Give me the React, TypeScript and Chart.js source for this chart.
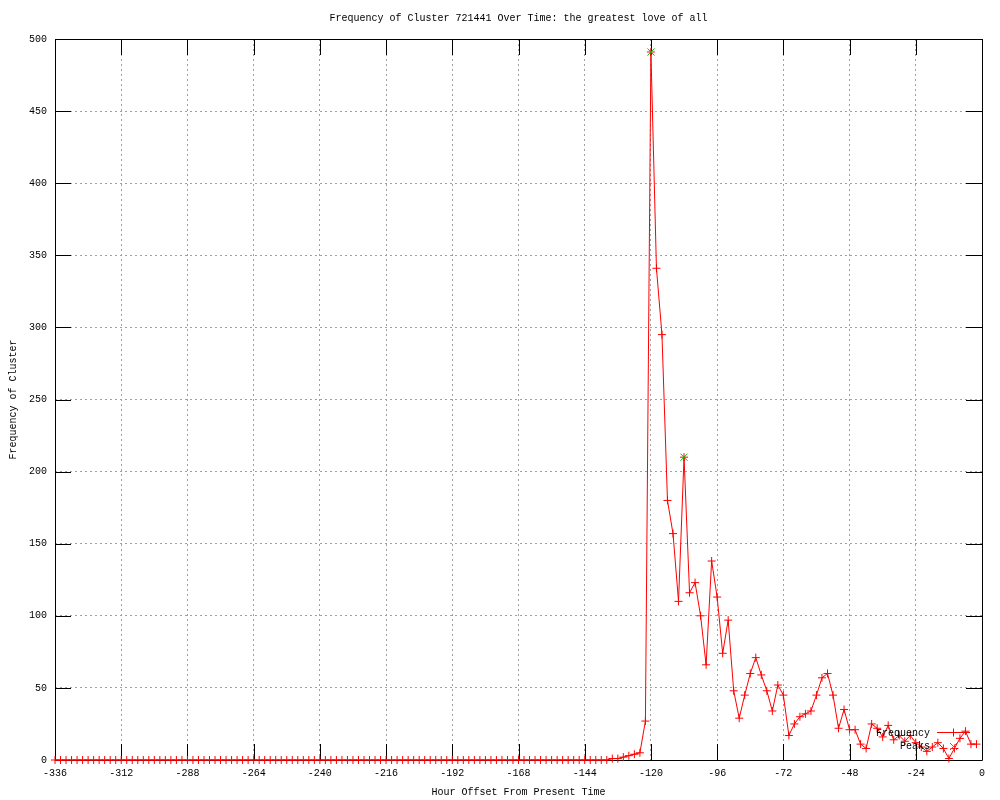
import React, { useEffect, useRef } from "react";
import { Chart, registerables } from "chart.js";

Chart.register(...registerables);

// ---- Data ----
const titleText = "Frequency of Cluster 721441 Over Time: the greatest love of all";
const xAxisTitle = "Hour Offset From Present Time";
const yAxisTitle = "Frequency of Cluster";

const firstHour = -336;
const hourStep = 2;

// frequency values at -336, -334, ..., -2
const frequencyValues: number[] = [
  0, 0, 0, 0, 0, 0, 0, 0, 0, 0, 0, 0, 0, 0, 0, 0, 0, 0, 0, 0,
  0, 0, 0, 0, 0, 0, 0, 0, 0, 0, 0, 0, 0, 0, 0, 0, 0, 0, 0, 0,
  0, 0, 0, 0, 0, 0, 0, 0, 0, 0, 0, 0, 0, 0, 0, 0, 0, 0, 0, 0,
  0, 0, 0, 0, 0, 0, 0, 0, 0, 0, 0, 0, 0, 0, 0, 0, 0, 0, 0, 0,
  0, 0, 0, 0, 0, 0, 0, 0, 0, 0, 0, 0, 0, 0, 0, 0, 0, 0, 0, 0,
  0,
  1, 1, 2, 3, 4, 5, 27, 491, 341, 295, 180, 157, 110, 210, 116, 123, 100, 66,
  138, 113, 74, 97, 48, 29, 45, 60, 71, 59, 48, 34, 52, 45, 17, 25, 30, 32, 34,
  45, 57, 60, 45, 22, 35, 21, 21, 11, 8, 25, 22, 16, 24, 14, 17, 13, 17, 12, 9,
  6, 9, 12, 8, 1, 8, 15, 20, 11, 11,
];

const peakHours: number[] = [-120, -108];
const peakValues: number[] = [491, 210];

const xTickStep = 24;
const xMin = -336;
const xMax = 0;
const yTickStep = 50;
const yMin = 0;
const yMax = 500;

const legendLabels: string[] = ["Frequency", "Peaks"];

const FONT = "10px 'Liberation Mono', 'DejaVu Sans Mono', monospace";
const RED = "#ff0000";
const GREEN = "#00c000";

const decorPlugin = {
  id: "gnuplotDecor",
  beforeDraw(chart: any) {
    const { ctx } = chart;
    ctx.save();
    ctx.fillStyle = "#ffffff";
    ctx.fillRect(0, 0, chart.width, chart.height);
    ctx.restore();
  },
  beforeDatasetsDraw(chart: any) {
    const { ctx, chartArea } = chart;
    const { left, right, top, bottom } = chartArea;
    const xs = chart.scales.x;
    const ys = chart.scales.y;
    const TIC = 16;
    ctx.save();
    ctx.strokeStyle = "#000000";
    ctx.lineWidth = 1;
    ctx.beginPath();
    ctx.rect(Math.round(left) + 0.5, Math.round(top) + 0.5, Math.round(right - left), Math.round(bottom - top));
    xs.ticks.forEach((t: any) => {
      const px = Math.round(xs.getPixelForValue(t.value)) + 0.5;
      ctx.moveTo(px, bottom);
      ctx.lineTo(px, bottom - TIC);
      ctx.moveTo(px, top);
      ctx.lineTo(px, top + TIC);
    });
    ys.ticks.forEach((t: any) => {
      const py = Math.round(ys.getPixelForValue(t.value)) + 0.5;
      ctx.moveTo(left, py);
      ctx.lineTo(left + TIC, py);
      ctx.moveTo(right, py);
      ctx.lineTo(right - TIC, py);
    });
    ctx.stroke();
    ctx.restore();
  },
  afterDraw(chart: any) {
    const { ctx, chartArea } = chart;
    ctx.save();
    ctx.fillStyle = "#000000";
    ctx.font = FONT;
    ctx.textBaseline = "middle";
    ctx.textAlign = "center";
    ctx.fillText(titleText, (chartArea.left + chartArea.right) / 2, 18);
    ctx.fillText(xAxisTitle, (chartArea.left + chartArea.right) / 2, 792);
    ctx.save();
    ctx.translate(13, (chartArea.top + chartArea.bottom) / 2);
    ctx.rotate(-Math.PI / 2);
    ctx.fillText(yAxisTitle, 0, 0);
    ctx.restore();

    ctx.textAlign = "right";
    ctx.fillText(legendLabels[0], 930, 733);
    ctx.fillText(legendLabels[1], 930, 746);
    ctx.strokeStyle = RED;
    ctx.lineWidth = 1;
    ctx.beginPath();
    ctx.moveTo(937, 732.5);
    ctx.lineTo(970, 732.5);
    ctx.stroke();
    ctx.restore();
    ctx.save();
    const drawPt = (style: string, color: string, x: number, y: number) => {
      ctx.strokeStyle = color;
      ctx.lineWidth = 1;
      ctx.beginPath();
      if (style === "cross") {
        ctx.moveTo(x - 4, y);
        ctx.lineTo(x + 4, y);
        ctx.moveTo(x, y - 4);
        ctx.lineTo(x, y + 4);
      } else {
        ctx.moveTo(x - 3.5, y - 3.5);
        ctx.lineTo(x + 3.5, y + 3.5);
        ctx.moveTo(x + 3.5, y - 3.5);
        ctx.lineTo(x - 3.5, y + 3.5);
      }
      ctx.stroke();
    };
    drawPt("cross", RED, 953.5, 732.5);
    drawPt("x", GREEN, 953.5, 746.5);
    ctx.restore();
  },
};

export default function App() {
  const canvasRef = useRef<HTMLCanvasElement | null>(null);

  useEffect(() => {
    document.body.style.margin = "0";
    const canvas = canvasRef.current;
    if (!canvas) return;

    const freqData = frequencyValues.map((v, i) => ({ x: firstHour + i * hourStep, y: v }));
    const peakData = peakHours.map((h, i) => ({ x: h, y: peakValues[i] }));

    const tickFont = { family: "'Liberation Mono', 'DejaVu Sans Mono', monospace", size: 10 };

    const chart = new Chart(canvas, {
      type: "line",
      data: {
        datasets: [
          {
            label: legendLabels[1],
            data: peakData,
            showLine: false,
            borderColor: GREEN,
            backgroundColor: GREEN,
            pointStyle: "crossRot",
            pointRadius: 5,
            pointBorderWidth: 1,
            pointBorderColor: GREEN,
            clip: false,
            order: 0,
          } as any,
          {
            label: legendLabels[0],
            data: freqData,
            borderColor: RED,
            backgroundColor: RED,
            borderWidth: 1,
            tension: 0,
            pointStyle: "cross",
            pointRadius: 4,
            pointBorderWidth: 1,
            pointBorderColor: RED,
            clip: false,
            order: 1,
          } as any,
        ],
      },
      options: {
        animation: false,
        responsive: false,
        devicePixelRatio: 1,
        events: [],
        layout: { padding: { top: 39, right: 18, left: 0, bottom: 0 } },
        plugins: {
          legend: { display: false },
          title: { display: false },
          tooltip: { enabled: false },
        },
        scales: {
          x: {
            type: "linear",
            min: xMin,
            max: xMax,
            afterFit: (s: any) => {
              s.height = 40;
            },
            ticks: {
              stepSize: xTickStep,
              color: "#000000",
              font: tickFont,
              padding: 7,
              maxRotation: 0,
              autoSkip: false,
            },
            grid: {
              color: "#a0a0a0",
              lineWidth: 1,
              drawTicks: false,
            },
            border: { display: false, dash: [2, 3] },
          },
          y: {
            type: "linear",
            min: yMin,
            max: yMax,
            afterFit: (s: any) => {
              s.width = 55;
            },
            ticks: {
              stepSize: yTickStep,
              color: "#000000",
              font: tickFont,
              padding: 8,
              autoSkip: false,
            },
            grid: {
              color: "#a0a0a0",
              lineWidth: 1,
              drawTicks: false,
            },
            border: { display: false, dash: [2, 3] },
          },
        },
      } as any,
      plugins: [decorPlugin],
    });

    return () => {
      chart.destroy();
    };
  }, []);

  return (
    <div style={{ position: "absolute", left: 0, top: 0, width: 1000, height: 800 }}>
      <canvas ref={canvasRef} width={1000} height={800} style={{ display: "block" }} />
    </div>
  );
}
